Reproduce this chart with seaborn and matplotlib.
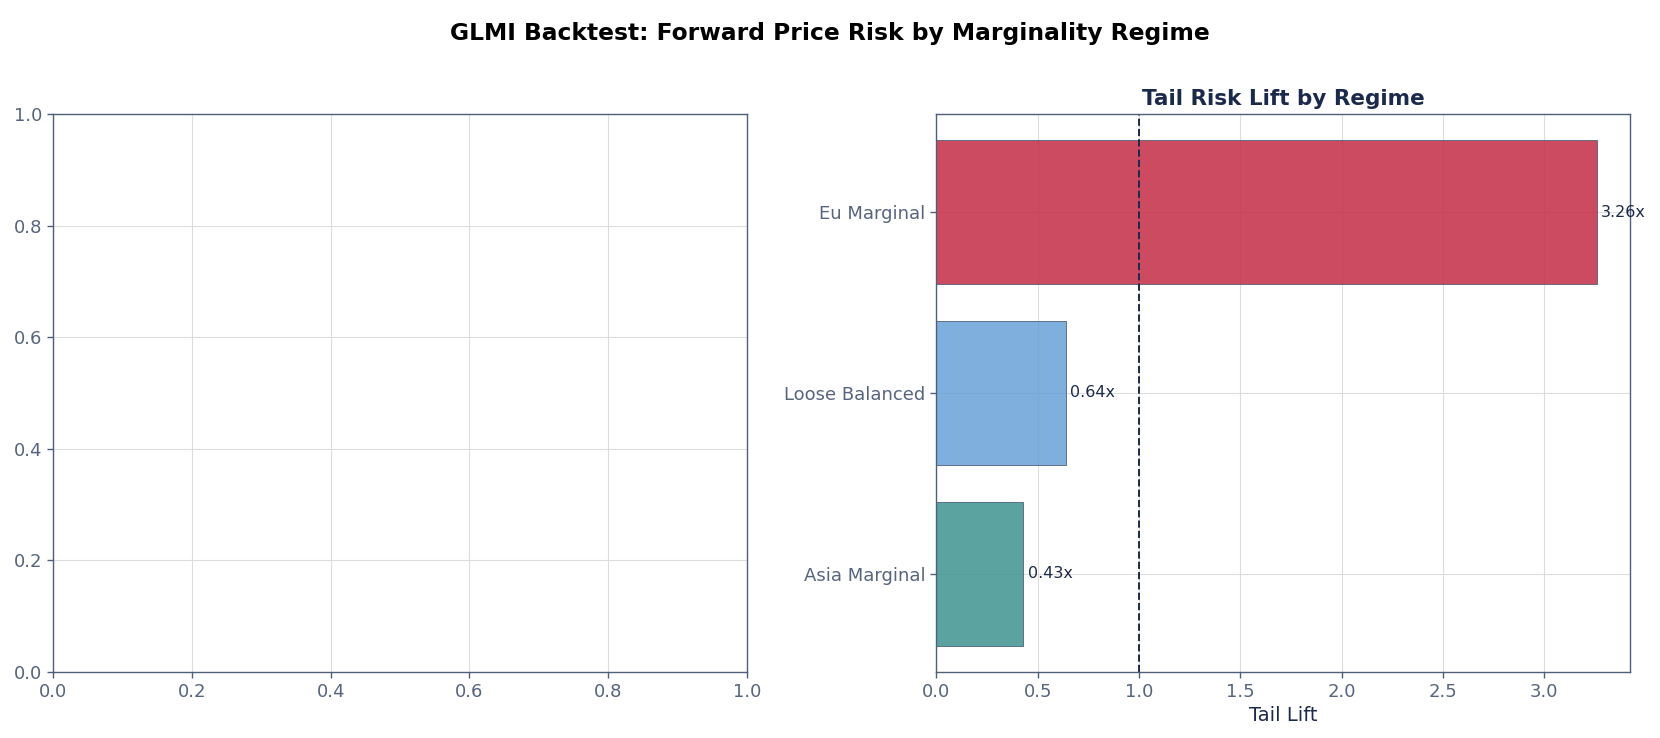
import matplotlib
matplotlib.use("Agg")
import matplotlib.pyplot as plt
import seaborn as sns

# data
regimes = ["Eu Marginal", "Loose Balanced", "Asia Marginal"]
tail_lift = [3.26, 0.64, 0.43]
bar_colors = ["#C52B45", "#67A1D7", "#3D9391"]

NAVY = "#1B2A4A"
SLATE = "#4F5F7A"
TICK = "#56657F"

sns.set_style("whitegrid")
plt.rcParams["font.family"] = ["DejaVu Sans"]
plt.rcParams["axes.edgecolor"] = SLATE
plt.rcParams["grid.color"] = "#DDDDDD"
plt.rcParams["grid.linewidth"] = 0.8

fig, (ax0, ax1) = plt.subplots(1, 2, figsize=(16.6, 7.38), dpi=100)
fig.subplots_adjust(left=0.032, right=0.982, top=0.845, bottom=0.090, wspace=0.273)

# left panel stays empty
ax0.set_xlim(0, 1)
ax0.set_ylim(0, 1)

sns.barplot(x=tail_lift, y=regimes, hue=regimes, palette=bar_colors, legend=False,
            orient="h", width=0.8, alpha=0.85, saturation=1, edgecolor=SLATE,
            linewidth=0.7, ax=ax1)
ax1.set_ylim(len(regimes) - 1 + 0.54, -0.54)
ax1.set_xlim(0, max(tail_lift) * 1.05)
ax1.yaxis.grid(True)
ax1.xaxis.grid(True)
ax1.axvline(1.0, color=NAVY, linestyle="--", linewidth=1.4)
for i, v in enumerate(tail_lift):
    ax1.text(v + 0.02, i, f"{v:.2f}x", va="center", ha="left", fontsize=11.5, color=NAVY)
ax1.set_title("Tail Risk Lift by Regime", fontsize=15.5, fontweight="bold", color=NAVY, pad=7)
ax1.set_xlabel("Tail Lift", fontsize=14, color=NAVY)
ax1.set_ylabel("")

for ax in (ax0, ax1):
    for sp in ax.spines.values():
        sp.set_visible(True)
        sp.set_color(SLATE)
        sp.set_linewidth(1.0)
    ax.tick_params(axis="both", colors=SLATE, labelcolor=TICK, labelsize=13,
                   length=4.5, width=1, left=True, bottom=True)

fig.suptitle("GLMI Backtest: Forward Price Risk by Marginality Regime",
             fontsize=16.8, fontweight="bold", color="black", y=0.97)

fig.savefig("out.png", dpi=100)
